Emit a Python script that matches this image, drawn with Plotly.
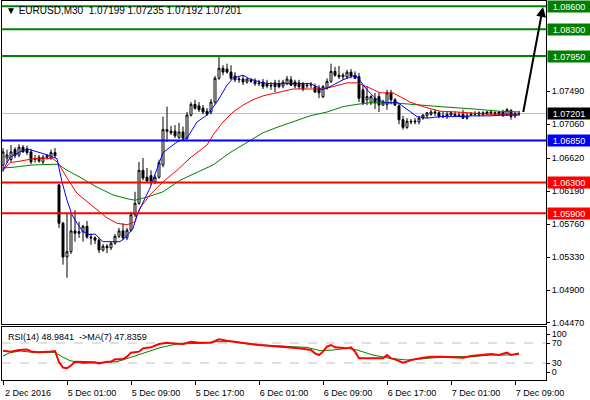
import plotly.graph_objects as go

# ---------------- data ----------------
bar_index = list(range(130))

opens = [1.0653, 1.0662, 1.0660, 1.0673, 1.0666, 1.0676, 1.0674, 1.0670, 1.0661, 1.0663,
         1.0657, 1.0663, 1.0662, 1.0669, 1.0627, 1.0577, 1.0533, 1.0540, 1.0567, 1.0564,
         1.0566, 1.0573, 1.0559, 1.0558, 1.0555, 1.0542, 1.0547, 1.0545, 1.0551, 1.0560,
         1.0567, 1.0558, 1.0568, 1.0588, 1.0603, 1.0646, 1.0637, 1.0639, 1.0631, 1.0637,
         1.0653, 1.0699, 1.0697, 1.0697, 1.0689, 1.0696, 1.0688, 1.0718, 1.0732, 1.0730,
         1.0727, 1.0723, 1.0722, 1.0735, 1.0766, 1.0779, 1.0778, 1.0774, 1.0769, 1.0764,
         1.0765, 1.0761, 1.0764, 1.0762, 1.0760, 1.0761, 1.0759, 1.0757, 1.0760, 1.0759,
         1.0756, 1.0759, 1.0764, 1.0761, 1.0760, 1.0759, 1.0756, 1.0757, 1.0755, 1.0753,
         1.0742, 1.0753, 1.0762, 1.0775, 1.0770, 1.0768, 1.0768, 1.0774, 1.0770, 1.0768,
         1.0751, 1.0738, 1.0734, 1.0740, 1.0742, 1.0731, 1.0732, 1.0747, 1.0738, 1.0730,
         1.0712, 1.0702, 1.0710, 1.0709, 1.0709, 1.0714, 1.0717, 1.0719, 1.0722, 1.0721,
         1.0717, 1.0716, 1.0718, 1.0719, 1.0718, 1.0719, 1.0714, 1.0718, 1.0719, 1.0719,
         1.0721, 1.0720, 1.0722, 1.0721, 1.0720, 1.0722, 1.0718, 1.0724, 1.0717, 1.07199]
highs = [1.0675, 1.0673, 1.0679, 1.0676, 1.0680, 1.0679, 1.0678, 1.0674, 1.0666, 1.0666,
         1.0666, 1.0667, 1.0673, 1.0675, 1.0628, 1.0579, 1.0590, 1.0590, 1.0594, 1.0579,
         1.0575, 1.0580, 1.0564, 1.0560, 1.0558, 1.0550, 1.0550, 1.0553, 1.0563, 1.0571,
         1.0577, 1.0571, 1.0592, 1.0618, 1.0657, 1.0662, 1.0649, 1.0646, 1.0640, 1.0660,
         1.0716, 1.0729, 1.0704, 1.0705, 1.0708, 1.0703, 1.0722, 1.0735, 1.0738, 1.0735,
         1.0731, 1.0727, 1.0739, 1.0769, 1.0796, 1.0783, 1.0785, 1.0783, 1.0774, 1.0768,
         1.0769, 1.0766, 1.0766, 1.0766, 1.0764, 1.0765, 1.0764, 1.0761, 1.0764, 1.0764,
         1.0764, 1.0769, 1.0769, 1.0764, 1.0764, 1.0761, 1.0760, 1.0761, 1.0759, 1.0757,
         1.0757, 1.0766, 1.0785, 1.0781, 1.0782, 1.0773, 1.0777, 1.0778, 1.0775, 1.0773,
         1.0757, 1.0755, 1.0744, 1.0747, 1.0748, 1.0738, 1.0751, 1.0751, 1.0740, 1.0732,
         1.0717, 1.0714, 1.0713, 1.0714, 1.0717, 1.0719, 1.0722, 1.0725, 1.0725, 1.0723,
         1.0722, 1.0722, 1.0723, 1.0723, 1.0722, 1.0725, 1.0721, 1.0722, 1.0723, 1.0723,
         1.0723, 1.0723, 1.0725, 1.0723, 1.0723, 1.0725, 1.0727, 1.0726, 1.0723, 1.07235]
lows = [1.0644, 1.0656, 1.0657, 1.0662, 1.0663, 1.0669, 1.0666, 1.0654, 1.0656, 1.0656,
        1.0654, 1.0660, 1.0660, 1.0662, 1.0571, 1.0523, 1.0506, 1.0537, 1.0553, 1.0558,
        1.0553, 1.0557, 1.0549, 1.0550, 1.0538, 1.0540, 1.0538, 1.0542, 1.0549, 1.0558,
        1.0555, 1.0555, 1.0566, 1.0585, 1.0601, 1.0633, 1.0630, 1.0627, 1.0628, 1.0635,
        1.0650, 1.0683, 1.0692, 1.0688, 1.0687, 1.0686, 1.0686, 1.0716, 1.0725, 1.0722,
        1.0719, 1.0717, 1.0719, 1.0732, 1.0764, 1.0770, 1.0772, 1.0764, 1.0761, 1.0760,
        1.0757, 1.0759, 1.0760, 1.0756, 1.0756, 1.0752, 1.0753, 1.0751, 1.0748, 1.0753,
        1.0753, 1.0757, 1.0756, 1.0753, 1.0752, 1.0749, 1.0753, 1.0753, 1.0747, 1.0740,
        1.0740, 1.0751, 1.0760, 1.0768, 1.0765, 1.0764, 1.0765, 1.0766, 1.0765, 1.0735,
        1.0731, 1.0731, 1.0731, 1.0726, 1.0722, 1.0730, 1.0725, 1.0732, 1.0730, 1.0706,
        1.0699, 1.0700, 1.0706, 1.0706, 1.0706, 1.0712, 1.0714, 1.0717, 1.0717, 1.0714,
        1.0714, 1.0713, 1.0717, 1.0716, 1.0716, 1.0713, 1.0712, 1.0717, 1.0717, 1.0716,
        1.0717, 1.0718, 1.0718, 1.0718, 1.0718, 1.0716, 1.0717, 1.0712, 1.0714, 1.07192]
closes = [1.0670, 1.0666, 1.0670, 1.0665, 1.0676, 1.0670, 1.0669, 1.0657, 1.0660, 1.0658,
          1.0663, 1.0665, 1.0669, 1.0665, 1.0577, 1.0533, 1.0540, 1.0567, 1.0564, 1.0566,
          1.0573, 1.0559, 1.0558, 1.0555, 1.0542, 1.0547, 1.0545, 1.0551, 1.0560, 1.0567,
          1.0558, 1.0568, 1.0588, 1.0603, 1.0646, 1.0636, 1.0632, 1.0632, 1.0637, 1.0656,
          1.0699, 1.0697, 1.0695, 1.0691, 1.0696, 1.0688, 1.0718, 1.0732, 1.0727, 1.0725,
          1.0722, 1.0719, 1.0735, 1.0766, 1.0779, 1.0774, 1.0774, 1.0766, 1.0764, 1.0765,
          1.0761, 1.0765, 1.0762, 1.0759, 1.0759, 1.0755, 1.0756, 1.0756, 1.0755, 1.0755,
          1.0761, 1.0765, 1.0757, 1.0756, 1.0755, 1.0752, 1.0757, 1.0758, 1.0748, 1.0747,
          1.0755, 1.0762, 1.0775, 1.0770, 1.0768, 1.0770, 1.0774, 1.0769, 1.0766, 1.0740,
          1.0734, 1.0742, 1.0742, 1.0734, 1.0731, 1.0735, 1.0747, 1.0738, 1.0731, 1.0712,
          1.0702, 1.0710, 1.0709, 1.0710, 1.0714, 1.0718, 1.0721, 1.0722, 1.0721, 1.0716,
          1.0716, 1.0719, 1.0721, 1.0717, 1.0717, 1.0714, 1.0717, 1.0719, 1.0720, 1.0721,
          1.0719, 1.0722, 1.0721, 1.0720, 1.0722, 1.0717, 1.0725, 1.0716, 1.0720, 1.07201]

# moving averages (sampled along the drawn curves)
ma_fast_x = [0, 1.75, 4.25, 6, 9.25, 11.75, 13.5, 14.75, 16, 17.25, 18.5, 20, 21.75, 23, 25,
             26.75, 29.25, 30.5, 32.5, 33.5, 36.75, 40, 43.5, 46, 48.5, 51, 53.5, 56, 57.5,
             60, 61.75, 65, 66.75, 72.5, 76.75, 78.5, 79.75, 81.75, 85, 87.5, 88.5, 91, 93.5,
             96, 97.5, 98.5, 101, 103.5, 106, 109.25, 113.5, 117.5, 121.75, 125, 129.25]
ma_fast_y = [1.0646, 1.0663, 1.0670, 1.0674, 1.0669, 1.0665, 1.0661, 1.0631, 1.0607, 1.0588,
             1.0577, 1.0566, 1.0562, 1.0563, 1.0553, 1.0553, 1.0553, 1.0558, 1.0570, 1.0588,
             1.0623, 1.0669, 1.0683, 1.0688, 1.0709, 1.0718, 1.0735, 1.0757, 1.0766, 1.0770,
             1.0765, 1.0760, 1.0759, 1.0759, 1.0759, 1.0755, 1.0751, 1.0755, 1.0764, 1.0769,
             1.0768, 1.0751, 1.0738, 1.0734, 1.0734, 1.0735, 1.0725, 1.0716, 1.0714, 1.0716,
             1.0716, 1.0717, 1.0717, 1.0718, 1.0718]
ma_mid_x = [0, 1.75, 4.25, 7.5, 10, 12.5, 13.75, 16, 18.5, 21, 23.5, 26, 28.5, 31, 33, 34.25,
            36.75, 40, 43.5, 46.75, 51, 52.5, 55, 57.5, 60, 62.5, 65, 69.25, 72.5, 76.75, 80,
            82.5, 86, 88.5, 91, 94.25, 97.5, 99.25, 101.75, 105, 109.25, 113.5, 117.5, 121.75,
            129.25]
ma_mid_y = [1.0646, 1.0656, 1.0658, 1.0661, 1.0662, 1.0661, 1.0656, 1.0636, 1.0616, 1.0605,
            1.0594, 1.0584, 1.0577, 1.0575, 1.0579, 1.0597, 1.0614, 1.0631, 1.0646, 1.0662,
            1.0679, 1.0692, 1.0709, 1.0722, 1.0731, 1.0738, 1.0743, 1.0748, 1.0752, 1.0752,
            1.0752, 1.0755, 1.0760, 1.0760, 1.0755, 1.0747, 1.0747, 1.0742, 1.0735, 1.0729,
            1.0723, 1.0722, 1.0721, 1.0719, 1.0719]
ma_slow_x = [0, 2.5, 7.5, 12.5, 13.75, 16, 19.25, 23.5, 27.5, 31, 33, 36, 40, 44.25, 48.5,
             52.5, 56.75, 61, 65, 68.5, 72.5, 76.75, 81, 85, 88.5, 91.75, 97.5, 101.75,
             109.25, 117.5, 124.25, 129.25]
ma_slow_y = [1.0649, 1.0650, 1.0653, 1.0654, 1.0654, 1.0646, 1.0637, 1.0624, 1.0614, 1.0609,
             1.0607, 1.0611, 1.0618, 1.0633, 1.0643, 1.0653, 1.0669, 1.0682, 1.0695, 1.0702,
             1.0709, 1.0717, 1.0722, 1.0729, 1.0732, 1.0734, 1.0734, 1.0732, 1.0729, 1.0726,
             1.0723, 1.0722]

# RSI(14) and its MA(7)
rsi_x = [0, 2, 4, 6, 7, 9, 12, 13, 14, 15, 16, 17, 18, 20, 22, 23, 24, 26, 27, 28, 30, 31,
         32, 34, 35, 37, 39, 41, 42, 45, 47, 49, 52, 54, 56, 59, 62, 64, 67, 69, 71, 74, 77,
         78, 79, 80, 81, 82, 83, 86, 87, 88, 89, 91, 93, 95, 96, 97, 98, 100, 101, 102, 105,
         107, 110, 112, 115, 117, 120, 122, 124, 126, 127, 128, 129]
rsi_y = [54.6, 52.7, 56, 57, 53, 51.3, 53, 54, 32, 21, 19.5, 25, 32.7, 32.7, 32.7, 31.3, 29.3,
         32.7, 32.7, 37.3, 37.3, 42.7, 50.7, 52.7, 59.3, 61.3, 68, 70.7, 69.3, 68, 72.7, 70.7,
         70.7, 77.3, 74.7, 70.7, 68, 66, 64, 64, 61.3, 59.3, 56, 49.3, 46, 52.7, 62.7, 66, 61.3,
         59.3, 61.3, 52.7, 39.3, 39.3, 39.3, 39.3, 46, 39.3, 37.3, 30.7, 32.7, 36, 40.7, 42.7,
         42.7, 41.3, 40.7, 44, 46, 48, 46, 50.7, 46, 48, 48.98]
rsi_ma_x = [0, 1.75, 4.25, 7.5, 11.75, 13, 14.75, 16.75, 20, 24.25, 28.5, 32.5, 36, 39.25,
            43.5, 49.25, 53.5, 57.5, 61.75, 66, 70, 71.75, 76, 79.25, 82.5, 86, 88.5, 92.5,
            96.75, 101, 105, 109.25, 113.5, 117.5, 121.75, 126, 129]
rsi_ma_y = [44, 50.7, 54, 51.3, 51.3, 51.3, 42.7, 34.7, 29.3, 30.7, 32.7, 42.7, 52.7, 60.7,
            68, 69.3, 72.7, 72.7, 67.3, 66, 64, 62.7, 61.3, 54.7, 56, 59.3, 56, 46, 39.3, 36,
            38.7, 41.3, 42.7, 42.7, 46, 46, 47.84]

time_tick_idx = [0, 16, 32, 48, 64, 80, 96, 112, 128]
time_tick_text = ["2 Dec 2016", "5 Dec 01:00", "5 Dec 09:00", "5 Dec 17:00", "6 Dec 01:00",
                  "6 Dec 09:00", "6 Dec 17:00", "7 Dec 01:00", "7 Dec 09:00"]
price_ticks = [1.0447, 1.0490, 1.0533, 1.0576, 1.0619, 1.0662, 1.0706, 1.0749]
rsi_level_ticks = [30, 70]
rsi_edge_ticks = [0, 100]
rsi_levels = [30, 70]

level_prices = [1.0860, 1.0830, 1.0795, 1.0685, 1.0630, 1.0590]
level_colors = ["#008000", "#008000", "#008000", "#0000FF", "#FF0000", "#FF0000"]
current_price = 1.07201
target_price = 1.0859
title_text = "▼ EURUSD,M30  1.07199 1.07235 1.07192 1.07201"
rsi_text = "RSI(14) 48.9841  ->MA(7) 47.8359"

# ---------------- figure ----------------
FONT = "Liberation Sans"
fig = go.Figure()

fig.add_trace(go.Candlestick(
    x=bar_index, open=opens, high=highs, low=lows, close=closes,
    xaxis="x", yaxis="y", whiskerwidth=0,
    increasing=dict(line=dict(color="black", width=1), fillcolor="white"),
    decreasing=dict(line=dict(color="black", width=1), fillcolor="black"),
    showlegend=False, hoverinfo="skip"))

for xs, ys, col in [(ma_slow_x, ma_slow_y, "#008000"),
                    (ma_mid_x, ma_mid_y, "#FF0000"),
                    (ma_fast_x, ma_fast_y, "#0000FF")]:
    fig.add_trace(go.Scatter(x=xs, y=ys, mode="lines", line=dict(color=col, width=1),
                             xaxis="x", yaxis="y", showlegend=False, hoverinfo="skip"))

fig.add_trace(go.Scatter(x=rsi_ma_x, y=rsi_ma_y, mode="lines",
                         line=dict(color="#008000", width=1),
                         xaxis="x2", yaxis="y2", showlegend=False, hoverinfo="skip"))
fig.add_trace(go.Scatter(x=rsi_x, y=rsi_y, mode="lines",
                         line=dict(color="#FF0000", width=2),
                         xaxis="x2", yaxis="y2", showlegend=False, hoverinfo="skip"))

shapes = []
annotations = []
shapes.append(dict(type="line", xref="paper", x0=0, x1=1, yref="y", y0=current_price,
                   y1=current_price, line=dict(color="#C0C0C0", width=1), layer="below"))
for p, c in zip(level_prices, level_colors):
    shapes.append(dict(type="line", xref="paper", x0=0, x1=1, yref="y", y0=p, y1=p,
                       line=dict(color=c, width=2)))
    annotations.append(dict(xref="paper", x=1, xanchor="left", xshift=1, yref="y", y=p,
                            text=f"{p:.5f}", showarrow=False, bgcolor=c, width=42, height=11,
                            borderpad=0, font=dict(family=FONT, size=9, color="white")))
annotations.append(dict(xref="paper", x=1, xanchor="left", xshift=1, yref="y", y=current_price,
                        text=f"{current_price:.5f}", showarrow=False, bgcolor="black",
                        width=42, height=11, borderpad=0,
                        font=dict(family=FONT, size=9, color="white")))
for lv in rsi_levels:
    shapes.append(dict(type="line", xref="paper", x0=0, x1=1, yref="y2", y0=lv, y1=lv,
                       line=dict(color="#C0C0C0", width=1, dash="dash"), layer="below"))

# forecast arrow
annotations.append(dict(x=135, y=target_price, xref="x", yref="y",
                        ax=130, ay=current_price, axref="x", ayref="y",
                        showarrow=True, arrowhead=2, arrowsize=1, arrowwidth=2,
                        arrowcolor="black", text=""))
annotations.append(dict(xref="paper", x=0, xanchor="left", xshift=2, yref="paper", y=1,
                        yanchor="top", yshift=-2, text=title_text, showarrow=False,
                        font=dict(family=FONT, size=10, color="black")))
annotations.append(dict(xref="paper", x=0, xanchor="left", xshift=4, yref="y2 domain", y=1,
                        yanchor="top", yshift=-3, text=rsi_text, showarrow=False,
                        font=dict(family=FONT, size=9, color="black")))

axis_common = dict(showline=True, mirror=True, linecolor="black", linewidth=1,
                   showgrid=False, zeroline=False)
tfont = dict(family=FONT, size=9, color="black")

fig.update_layout(
    width=590, height=400,
    margin=dict(l=2, r=44, t=1, b=20),
    paper_bgcolor="white", plot_bgcolor="white",
    font=dict(family=FONT, size=9, color="black"),
    shapes=shapes, annotations=annotations,
    xaxis=dict(domain=[0, 1], anchor="y", range=[-0.25, 135.75], showticklabels=False,
               ticks="", rangeslider=dict(visible=False), **axis_common),
    yaxis=dict(domain=[0.1478, 1], anchor="x", range=[1.04457, 1.08667], side="right",
               tickvals=price_ticks, tickformat=".5f", ticks="outside", ticklen=3,
               tickcolor="black", tickfont=tfont, **axis_common),
    xaxis2=dict(domain=[0, 1], anchor="y2", matches="x", range=[-0.25, 135.75],
                tickvals=time_tick_idx, ticktext=time_tick_text, ticks="outside", ticklen=4,
                tickcolor="black", ticklabelshift=25, tickfont=tfont, **axis_common),
    yaxis2=dict(domain=[0, 0.1398], anchor="x2", range=[-4, 102], side="right",
                tickvals=rsi_level_ticks, ticks="outside", ticklen=3, tickcolor="black",
                tickfont=tfont, **axis_common),
    # MT4 pulls the 0 / 100 labels inside the RSI window
    yaxis3=dict(overlaying="y2", anchor="x2", side="right", range=[-21.05, 118.4],
                tickvals=rsi_edge_ticks, ticks="outside", ticklen=3, tickcolor="black",
                tickfont=tfont, showgrid=False, zeroline=False, showline=False),
)
# an invisible trace so the label axis is drawn
fig.add_trace(go.Scatter(x=[0], y=[50], mode="markers", marker=dict(opacity=0),
                         xaxis="x2", yaxis="y3", showlegend=False, hoverinfo="skip"))

fig.write_html("out.html", config={"displayModeBar": False},
               post_script="document.body.style.margin='0px';")
